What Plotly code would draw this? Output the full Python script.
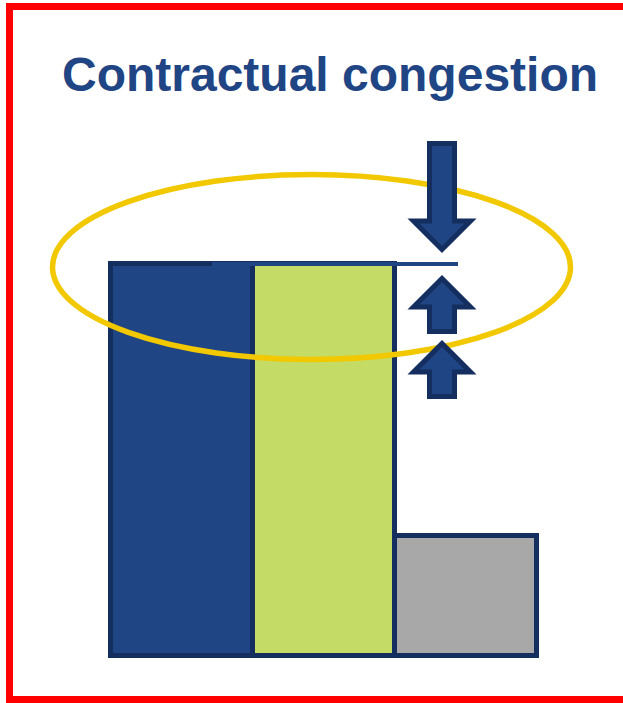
import plotly.graph_objects as go

# ---- data ----
categories = ["Capacity", "Contracted", "Used"]
values = [1.0, 1.0, 0.305]
fill_colors = ["#1F4585", "#C4DB65", "#A8A8A8"]
title_text = "Contractual congestion"

W, H = 623, 703
OUTLINE = "#142E5F"
BLUE = "#1F4585"
GOLD = "#F2C800"

# pixel calibration of the axes (axes span the whole figure)
PX0, PXU = 110.5, 142.2   # px of left bar edge, px per category
PY0, PYU = 656.0, 392.0   # px of zero, px per unit value


def dx(px):
    return -0.5 + (px - PX0) / PXU


def dy(py):
    return (PY0 - py) / PYU


def px_of(v):
    return PY0 - v * PYU


fig = go.Figure()
fig.add_trace(go.Bar(
    x=list(range(len(categories))), y=values, width=1.0,
    marker=dict(color=fill_colors, line=dict(color=OUTLINE, width=5)),
    hovertext=categories, hoverinfo="text+y",
))

top = max(values)
ty = px_of(top)  # pixel row of bar top


def poly(points):
    return "M " + " L ".join(f"{dx(x):.5f},{dy(y):.5f}" for x, y in points) + " Z"


def down_arrow(cx, y_top, y_tip):
    sw, hw, hl = 12.5, 28.5, 28.5
    pts = [(cx - sw, y_top), (cx + sw, y_top), (cx + sw, y_tip - hl), (cx + hw, y_tip - hl),
           (cx, y_tip), (cx - hw, y_tip - hl), (cx - sw, y_tip - hl)]
    return poly(pts)


def up_arrow(cx, y_tip, y_bot):
    sw, hw, hl = 12.5, 28.5, 28.5
    pts = [(cx, y_tip), (cx + hw, y_tip + hl), (cx + sw, y_tip + hl), (cx + sw, y_bot),
           (cx - sw, y_bot), (cx - sw, y_tip + hl), (cx - hw, y_tip + hl)]
    return poly(pts)


shapes = []
# line continuing the bar top
shapes.append(dict(type="line", xref="x", yref="y", x0=dx(212), x1=dx(458), y0=top, y1=top,
                   line=dict(color=BLUE, width=4), layer="above"))
# ellipse
shapes.append(dict(type="circle", xref="x", yref="y", x0=dx(52.5), x1=dx(570.5),
                   y0=dy(359.5), y1=dy(174.5), line=dict(color=GOLD, width=5.5), layer="above"))
# arrows
cx = 442
arrow_style = dict(type="path", xref="x", yref="y", fillcolor=BLUE,
                   line=dict(color=OUTLINE, width=5), layer="above")
shapes.append(dict(path=down_arrow(cx, 143.5, ty - 14.5), **arrow_style))
shapes.append(dict(path=up_arrow(cx, ty + 14.5, 331.5), **arrow_style))
shapes.append(dict(path=up_arrow(cx, 343.5, 396.5), **arrow_style))

# red frame (top, left, bottom)
def pp(x, y):
    return f"{x / W:.5f},{1 - y / H:.5f}"

shapes.append(dict(type="path", xref="paper", yref="paper",
                   path=f"M {pp(W + 5, 6.5)} L {pp(9.5, 6.5)} L {pp(9.5, 699.5)} L {pp(W + 5, 699.5)}",
                   line=dict(color="#FF0000", width=7), layer="above"))

fig.update_layout(
    width=W, height=H, margin=dict(l=0, r=0, t=0, b=0),
    paper_bgcolor="white", plot_bgcolor="white",
    bargap=0, showlegend=False,
    xaxis=dict(range=[dx(0), dx(W)], visible=False, fixedrange=True),
    yaxis=dict(range=[dy(H), dy(0)], visible=False, fixedrange=True),
    shapes=shapes,
    annotations=[dict(text=f"<b>{title_text}</b>", xref="paper", yref="paper",
                      x=330 / W, y=1 - 74 / H, xanchor="center", yanchor="middle",
                      showarrow=False,
                      font=dict(family="Liberation Sans, Arial, sans-serif", size=48, color=BLUE))],
)

fig.write_html("out.html", config={"displayModeBar": False},
               post_script="document.body.style.margin='0';document.body.style.overflow='hidden';")
